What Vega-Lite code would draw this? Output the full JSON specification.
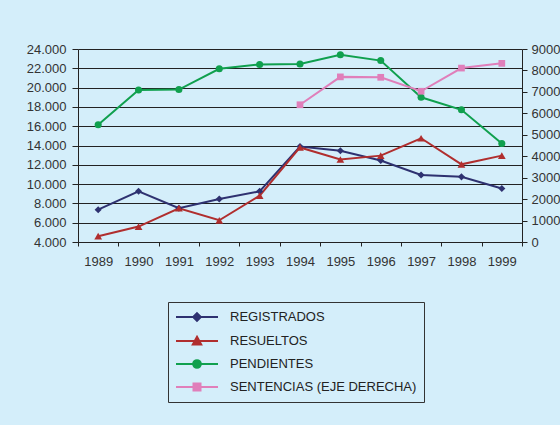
{
  "$schema": "https://vega.github.io/schema/vega-lite/v6.json",
  "width": 444,
  "height": 193,
  "autosize": "none",
  "padding": {"left": 78, "top": 49, "right": 38, "bottom": 183},
  "background": "#d4eefa",
  "config": {
    "locale": {"number": {"decimal": ",", "thousands": ".", "grouping": [3], "currency": ["", " €"]}},
    "view": {"stroke": null},
    "font": "Liberation Sans",
    "axis": {"labelFont": "Liberation Sans", "labelFontSize": 13, "labelColor": "#333333", "domainColor": "#222222", "tickColor": "#222222", "title": null}
  },
  "data": {
    "values": [
      {"anio": "1989", "serie": "REGISTRADOS", "valor": 7350},
      {"anio": "1990", "serie": "REGISTRADOS", "valor": 9250},
      {"anio": "1991", "serie": "REGISTRADOS", "valor": 7500},
      {"anio": "1992", "serie": "REGISTRADOS", "valor": 8450},
      {"anio": "1993", "serie": "REGISTRADOS", "valor": 9250},
      {"anio": "1994", "serie": "REGISTRADOS", "valor": 13900},
      {"anio": "1995", "serie": "REGISTRADOS", "valor": 13450},
      {"anio": "1996", "serie": "REGISTRADOS", "valor": 12450},
      {"anio": "1997", "serie": "REGISTRADOS", "valor": 10950},
      {"anio": "1998", "serie": "REGISTRADOS", "valor": 10750},
      {"anio": "1999", "serie": "REGISTRADOS", "valor": 9550},
      {"anio": "1989", "serie": "RESUELTOS", "valor": 4600},
      {"anio": "1990", "serie": "RESUELTOS", "valor": 5600},
      {"anio": "1991", "serie": "RESUELTOS", "valor": 7500},
      {"anio": "1992", "serie": "RESUELTOS", "valor": 6250},
      {"anio": "1993", "serie": "RESUELTOS", "valor": 8800},
      {"anio": "1994", "serie": "RESUELTOS", "valor": 13800},
      {"anio": "1995", "serie": "RESUELTOS", "valor": 12550},
      {"anio": "1996", "serie": "RESUELTOS", "valor": 12950},
      {"anio": "1997", "serie": "RESUELTOS", "valor": 14750},
      {"anio": "1998", "serie": "RESUELTOS", "valor": 12050},
      {"anio": "1999", "serie": "RESUELTOS", "valor": 12950},
      {"anio": "1989", "serie": "PENDIENTES", "valor": 16150},
      {"anio": "1990", "serie": "PENDIENTES", "valor": 19750},
      {"anio": "1991", "serie": "PENDIENTES", "valor": 19800},
      {"anio": "1992", "serie": "PENDIENTES", "valor": 21950},
      {"anio": "1993", "serie": "PENDIENTES", "valor": 22400},
      {"anio": "1994", "serie": "PENDIENTES", "valor": 22450},
      {"anio": "1995", "serie": "PENDIENTES", "valor": 23400},
      {"anio": "1996", "serie": "PENDIENTES", "valor": 22800},
      {"anio": "1997", "serie": "PENDIENTES", "valor": 19000},
      {"anio": "1998", "serie": "PENDIENTES", "valor": 17700},
      {"anio": "1999", "serie": "PENDIENTES", "valor": 14200},
      {"anio": "1994", "serie": "SENTENCIAS (EJE DERECHA)", "valor": 6400},
      {"anio": "1995", "serie": "SENTENCIAS (EJE DERECHA)", "valor": 7700},
      {"anio": "1996", "serie": "SENTENCIAS (EJE DERECHA)", "valor": 7680},
      {"anio": "1997", "serie": "SENTENCIAS (EJE DERECHA)", "valor": 7030},
      {"anio": "1998", "serie": "SENTENCIAS (EJE DERECHA)", "valor": 8110},
      {"anio": "1999", "serie": "SENTENCIAS (EJE DERECHA)", "valor": 8330}
    ]
  },
  "encoding": {
    "x": {
      "field": "anio", "type": "ordinal",
      "scale": {"type": "band", "paddingInner": 0, "paddingOuter": 0},
      "axis": {"labelAngle": 0, "tickBand": "extent", "tickSize": 4, "labelPadding": 9, "grid": false}
    },
    "color": {
      "field": "serie", "type": "nominal",
      "scale": {
        "domain": ["REGISTRADOS", "RESUELTOS", "PENDIENTES", "SENTENCIAS (EJE DERECHA)"],
        "range": ["#2e3170", "#b02e2e", "#10a04e", "#e07fba"]
      },
      "legend": {
        "title": null,
        "orient": "none",
        "legendX": 90,
        "legendY": 253,
        "direction": "vertical",
        "strokeColor": "#333333",
        "padding": 7,
        "rowPadding": 7,
        "labelFont": "Liberation Sans",
        "labelFontSize": 13,
        "labelColor": "#222222",
        "labelOffset": 39,
        "labelLimit": 300,
        "symbolSize": 196,
        "symbolStrokeWidth": 2,
        "encode": {
          "symbols": {
            "update": {
              "shape": {"signal": "datum.value === 'REGISTRADOS' ? 'M-1,0H5M2,-0.55L2.55,0L2,0.55L1.45,0Z' : datum.value === 'RESUELTOS' ? 'M-1,0H5M2,-0.6L2.6,0.5L1.4,0.5Z' : datum.value === 'PENDIENTES' ? 'M-1,0H5M2.55,0A0.55,0.55 0 1,1 1.45,0A0.55,0.55 0 1,1 2.55,0Z' : 'M-1,0H5M1.5,-0.5H2.5V0.5H1.5Z'"},
              "size": {"value": 196},
              "fill": {"scale": "color", "field": "value"},
              "stroke": {"scale": "color", "field": "value"},
              "strokeWidth": {"value": 2},
              "opacity": {"value": 1},
              "fillOpacity": {"value": 1},
              "strokeOpacity": {"value": 1}
            }
          }
        }
      }
    }
  },
  "layer": [
    {
      "transform": [{"filter": "datum.serie !== 'SENTENCIAS (EJE DERECHA)'"}],
      "encoding": {
        "y": {
          "field": "valor", "type": "quantitative",
          "scale": {"domain": [4000, 24000], "nice": false, "zero": false},
          "axis": {
            "orient": "left", "values": [4000, 6000, 8000, 10000, 12000, 14000, 16000, 18000, 20000, 22000, 24000],
            "format": ",d", "grid": true, "gridColor": "#222222", "gridOpacity": 1, "tickSize": 6, "labelPadding": 6
          }
        }
      },
      "layer": [
        {"mark": {"type": "line", "strokeWidth": 2}},
        {
          "transform": [{"filter": "datum.serie === 'REGISTRADOS'"}],
          "mark": {"type": "point", "shape": "diamond", "filled": true, "opacity": 1, "size": 50}
        },
        {
          "transform": [{"filter": "datum.serie === 'RESUELTOS'"}],
          "mark": {"type": "point", "shape": "triangle-up", "filled": true, "opacity": 1, "size": 60}
        },
        {
          "transform": [{"filter": "datum.serie === 'PENDIENTES'"}],
          "mark": {"type": "point", "shape": "circle", "filled": true, "opacity": 1, "size": 50}
        }
      ]
    },
    {
      "transform": [{"filter": "datum.serie === 'SENTENCIAS (EJE DERECHA)'"}],
      "encoding": {
        "y": {
          "field": "valor", "type": "quantitative",
          "scale": {"domain": [0, 9000], "nice": false, "zero": true},
          "axis": {
            "orient": "right", "values": [0, 1000, 2000, 3000, 4000, 5000, 6000, 7000, 8000, 9000],
            "format": "d", "grid": false, "tickSize": 5, "labelPadding": 4
          }
        }
      },
      "layer": [
        {"mark": {"type": "line", "strokeWidth": 2}},
        {
          "mark": {"type": "point", "shape": "square", "filled": true, "opacity": 1, "size": 45}
        }
      ]
    }
  ],
  "resolve": {"scale": {"y": "independent"}}
}
